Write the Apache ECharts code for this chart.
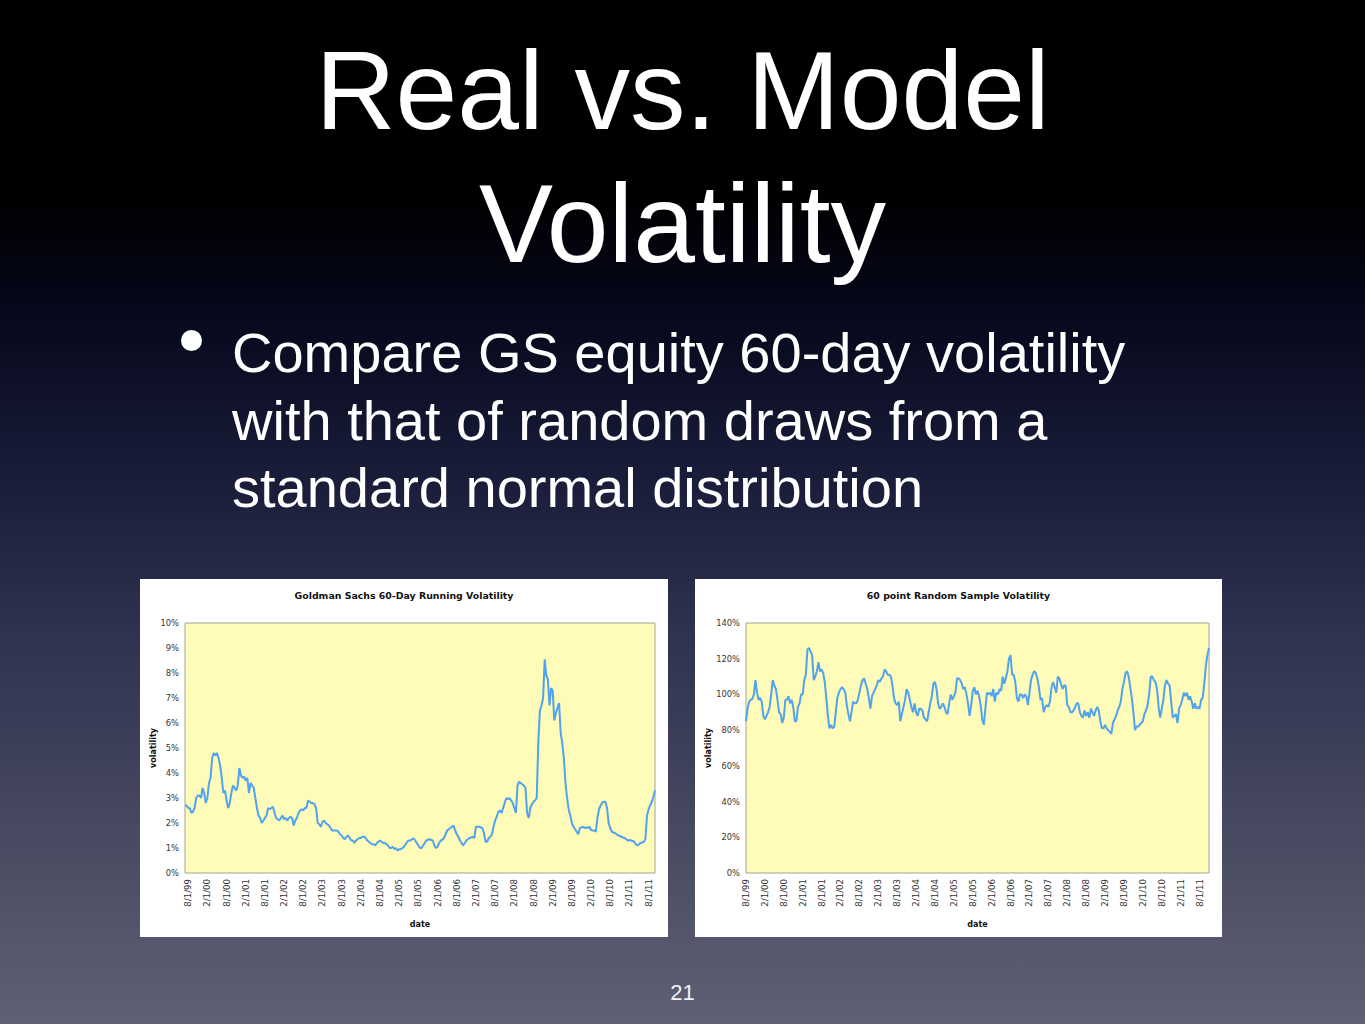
<!DOCTYPE html>
<html>
<head>
<meta charset="utf-8">
<script src="https://cdn.jsdelivr.net/npm/echarts@6/dist/echarts.min.js"></script>
<style>
  html, body { margin: 0; padding: 0; }
  body {
    width: 1365px; height: 1024px; overflow: hidden; position: relative;
    background: linear-gradient(to bottom, #000000 0%, #000000 19%, #05071a 30%, #191c38 46%, #2f3250 62%, #46485f 80%, #5f6075 100%);
    font-family: "Liberation Sans", Arial, Helvetica, sans-serif;
    color: #ffffff;
  }
  #title {
    position: absolute; left: 0; width: 1365px; top: 25px;
    text-align: center; font-size: 111px; line-height: 133px; white-space: nowrap;
  }
  #bullet {
    position: absolute; left: 181px; top: 330px; width: 21px; height: 21px;
    border-radius: 50%; background: #ffffff;
  }
  #body {
    position: absolute; left: 232px; top: 319px;
    font-size: 56px; line-height: 67.5px; white-space: nowrap;
  }
  #page {
    position: absolute; left: 0; width: 1365px; top: 979px; text-align: center;
    font-size: 22px; line-height: 28px; color: #f2f2f2;
  }
  .chartbox { position: absolute; top: 579px; height: 358px; background: #ffffff; }
  #c1 { left: 140px; width: 528px; }
  #c2 { left: 695px; width: 527px; }
</style>
</head>
<body>
<div id="title">Real vs. Model<br>Volatility</div>
<div id="bullet"></div>
<div id="body">Compare GS equity 60-day volatility<br>with that of random draws from a<br>standard normal distribution</div>
<div id="page">21</div>
<div id="c1" class="chartbox"></div>
<div id="c2" class="chartbox"></div>
<script>
// ---------------- data ----------------
const tickLabels = ['8/1/99','2/1/00','8/1/00','2/1/01','8/1/01','2/1/02','8/1/02','2/1/03','8/1/03','2/1/04','8/1/04','2/1/05','8/1/05','2/1/06','8/1/06','2/1/07','8/1/07','2/1/08','8/1/08','2/1/09','8/1/09','2/1/10','8/1/10','2/1/11','8/1/11'];

// Goldman Sachs 60-day running volatility (%), semi-monthly readings
const gsVol = [
  2.7, 2.7, 2.6, 2.6, 2.4, 2.45, 2.6, 3.0, 3.1, 3.1,
  3.0, 3.4, 3.2, 2.8, 3.0, 3.6, 3.8, 4.6, 4.8, 4.7,
  4.8, 4.6, 4.3, 3.8, 3.2, 3.3, 2.9, 2.6, 2.8, 3.2,
  3.5, 3.4, 3.3, 3.5, 4.2, 3.9, 3.8, 3.85, 3.7, 3.8,
  3.2, 3.6, 3.5, 3.4, 3.0, 2.6, 2.3, 2.2, 2.0, 2.1,
  2.2, 2.3, 2.6, 2.55, 2.6, 2.65, 2.4, 2.2, 2.15, 2.1,
  2.2, 2.3, 2.15, 2.2, 2.1, 2.2, 2.25, 2.2, 1.9, 2.1,
  2.2, 2.4, 2.5, 2.55, 2.5, 2.6, 2.6, 2.9, 2.85, 2.8,
  2.8, 2.75, 2.6, 2.0, 1.95, 1.85, 2.05, 2.1, 2.0, 1.95,
  1.9, 1.8, 1.7, 1.7, 1.7, 1.7, 1.65, 1.55, 1.5, 1.4,
  1.35, 1.45, 1.5, 1.4, 1.3, 1.3, 1.2, 1.3, 1.35, 1.4,
  1.4, 1.45, 1.45, 1.4, 1.3, 1.25, 1.2, 1.15, 1.15, 1.1,
  1.2, 1.25, 1.3, 1.25, 1.2, 1.2, 1.15, 1.1, 1.0, 1.0,
  1.05, 0.95, 1.0, 0.9, 0.95, 0.95, 1.0, 1.05, 1.15, 1.25,
  1.3, 1.3, 1.35, 1.38, 1.3, 1.2, 1.1, 1.0, 1.0, 1.1,
  1.2, 1.3, 1.33, 1.35, 1.32, 1.3, 1.1, 1.0, 1.05, 1.2,
  1.3, 1.33, 1.4, 1.55, 1.7, 1.75, 1.8, 1.85, 1.9, 1.7,
  1.55, 1.45, 1.3, 1.2, 1.1, 1.2, 1.3, 1.35, 1.4, 1.42,
  1.45, 1.4, 1.85, 1.85, 1.85, 1.82, 1.8, 1.6, 1.25, 1.25,
  1.4, 1.45, 1.55, 1.85, 2.1, 2.25, 2.45, 2.5, 2.4, 2.6,
  2.8, 3.0, 2.95, 3.0, 2.9, 2.8, 2.6, 2.4, 3.5, 3.65,
  3.6, 3.55, 3.5, 3.4, 2.4, 2.2, 2.6, 2.75, 2.85, 2.9,
  3.0, 5.2, 6.5, 6.7, 7.0, 8.55, 7.9, 7.75, 6.7, 7.4,
  7.3, 6.1, 6.4, 6.6, 6.8, 5.6, 5.2, 4.6, 3.6, 3.0,
  2.55, 2.3, 2.0, 1.85, 1.75, 1.65, 1.55, 1.8, 1.82, 1.85,
  1.8, 1.82, 1.8, 1.85, 1.72, 1.7, 1.7, 1.65, 2.2, 2.55,
  2.7, 2.82, 2.85, 2.85, 2.6, 2.0, 1.8, 1.65, 1.62, 1.6,
  1.55, 1.5, 1.48, 1.45, 1.42, 1.4, 1.35, 1.3, 1.32, 1.3,
  1.28, 1.25, 1.15, 1.1, 1.15, 1.2, 1.22, 1.25, 1.35, 2.3,
  2.55, 2.7, 2.85, 3.05, 3.3
];

// 60 point random sample volatility (%), semi-monthly readings
const randVol = [
  85, 92, 96, 97, 97.5, 100, 108, 101, 97, 98,
  96, 88, 86, 88, 90, 93, 100, 108, 105, 103,
  97, 90, 89, 84, 87, 97, 97, 99, 95, 97,
  93, 85, 85, 93, 95, 100, 100, 108, 111, 125,
  126, 124, 122, 108, 110, 113, 118, 113, 114, 112,
  107, 98, 88, 81, 83, 81, 82, 90, 98, 101,
  103, 104, 103, 101, 94, 89, 85, 90, 96, 95,
  95, 97, 101, 105, 108, 109, 106, 103, 98, 92,
  99, 101, 103, 105, 108, 107, 109, 110, 114, 113,
  111, 111, 110, 105, 98, 95, 94, 96, 85, 89,
  93, 97, 103, 101, 97, 93, 90, 95, 90, 88,
  92, 92, 91, 87, 86, 85, 90, 95, 99, 106,
  107, 103, 95, 92, 93, 95, 93, 90, 89, 95,
  100, 97, 99, 101, 109, 109, 108, 106, 103, 104,
  100, 95, 88, 94, 102, 104, 100, 102, 99, 94,
  86, 83, 92, 101, 100, 101, 99, 103, 96, 101,
  100, 103, 102, 110, 106, 109, 113, 120, 122, 111,
  111, 107, 98, 96, 100, 100, 98, 100, 99, 94,
  101, 108, 111, 113, 112, 109, 104, 97, 98, 90,
  93, 94, 93, 96, 104, 107, 104, 101, 110, 109,
  106, 103, 105, 105, 94, 93, 90, 90, 91, 93,
  95, 95, 90, 88, 87, 91, 88, 90, 87, 92,
  90, 88, 91, 93, 91, 85, 81, 81, 83, 81,
  80, 79, 78, 84, 86, 88, 91, 93, 96, 103,
  107, 112, 113, 110, 104, 98, 90, 80, 82, 82,
  83, 84, 85, 89, 91, 94, 100, 110, 110, 108,
  107, 103, 93, 87, 92, 97, 105, 108, 106, 105,
  96, 87, 88, 89, 84, 92, 94, 97, 101, 99,
  101, 97, 99, 96, 92, 95, 92, 93, 92, 97,
  98, 106, 116, 122, 126
];

// semi-monthly date categories (1st and 15th of each month)
function buildDates(startYear, startMonth, n) {
  const out = [];
  for (let k = 0; k < n; k++) {
    const m0 = (startMonth - 1) + Math.floor(k / 2);
    const y = startYear + Math.floor(m0 / 12);
    const m = (m0 % 12) + 1;
    const d = (k % 2 === 0) ? 1 : 15;
    out.push(m + '/' + d + '/' + String(y % 100).padStart(2, '0'));
  }
  return out;
}
const gsDates = buildDates(1999, 7, gsVol.length);
const randDates = buildDates(1999, 8, randVol.length);
const tickSet = new Set(tickLabels);

// ---------------- charts ----------------
const chartFont = '"DejaVu Sans", Verdana, sans-serif';
function makeOption(titleText, dates, values, yMax, yInterval, gridLeft) {
  return {
    animation: false,
    backgroundColor: '#ffffff',
    textStyle: { fontFamily: chartFont },
    title: {
      text: titleText, left: 'center', top: 7,
      textStyle: { fontFamily: chartFont, fontSize: 9.4, fontWeight: 'bold', color: '#111' }
    },
    grid: {
      left: gridLeft, right: 13, top: 44, bottom: 64,
      containLabel: false, outerBoundsMode: 'none',
      show: true, backgroundColor: '#fffbb8', borderColor: '#a3a39a', borderWidth: 1
    },
    xAxis: {
      type: 'category', data: dates, boundaryGap: false,
      name: 'date', nameLocation: 'middle', nameGap: 47, nameMoveOverlap: false,
      nameTextStyle: { fontFamily: chartFont, fontSize: 8, fontWeight: 'bold', color: '#111' },
      axisLine: { show: false }, axisTick: { show: false }, splitLine: { show: false },
      axisLabel: {
        rotate: 90, fontSize: 8.6, color: '#333', margin: 6, fontFamily: chartFont,
        interval: function (idx, val) { return tickSet.has(val); }
      }
    },
    yAxis: {
      type: 'value', min: 0, max: yMax, interval: yInterval,
      name: 'volatility', nameLocation: 'middle', nameGap: gridLeft - 17, nameMoveOverlap: false,
      nameTextStyle: { fontFamily: chartFont, fontSize: 8, fontWeight: 'bold', color: '#111' },
      axisLine: { show: false }, axisTick: { show: false }, splitLine: { show: false },
      axisLabel: { formatter: '{value}%', fontSize: 8.3, color: '#333', margin: 6, fontFamily: chartFont }
    },
    series: [{
      type: 'line', data: values, showSymbol: false,
      lineStyle: { color: '#4fa3ef', width: 2 }, itemStyle: { color: '#4fa3ef' }
    }]
  };
}

const c1 = echarts.init(document.getElementById('c1'), null, { renderer: 'svg' });
c1.setOption(makeOption('Goldman Sachs 60-Day Running Volatility', gsDates, gsVol, 10, 1, 45));
const c2 = echarts.init(document.getElementById('c2'), null, { renderer: 'svg' });
c2.setOption(makeOption('60 point Random Sample Volatility', randDates, randVol, 140, 20, 51));
</script>
</body>
</html>
